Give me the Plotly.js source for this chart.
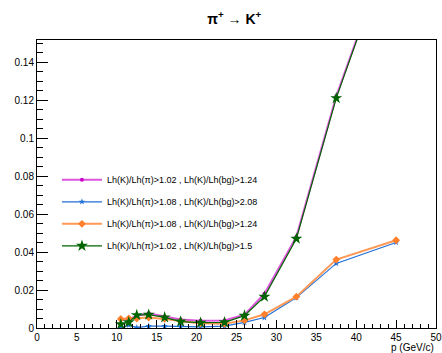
<!DOCTYPE html>
<html>
<head>
<meta charset="utf-8">
<script src="https://cdn.plot.ly/plotly-3.0.1.min.js"></script>
<style>html,body{margin:0;padding:0;background:#fff;}#chart{width:442px;height:353px;}</style>
</head>
<body>
<div id="chart"></div>
<script>
const momentum = [10.5, 11.5, 12.5, 14, 16, 18, 20.5, 23.5, 26, 28.5, 32.5, 37.5, 45];
const effMagenta = [0.0045, 0.0045, 0.0065, 0.0078, 0.0060, 0.0045, 0.0038, 0.0040, 0.0070, 0.0180, 0.0480, 0.1220, 0.2100];
const effBlue    = [0.0000, 0.0015, 0.0002, 0.0010, 0.0010, 0.0009, 0.0006, 0.0010, 0.0030, 0.0055, 0.0160, 0.0340, 0.0450];
const effOrange  = [0.0048, 0.0050, 0.0050, 0.0055, 0.0048, 0.0035, 0.0025, 0.0022, 0.0040, 0.0072, 0.0165, 0.0360, 0.0462];
const effGreen   = [0.0020, 0.0030, 0.0068, 0.0070, 0.0056, 0.0034, 0.0028, 0.0030, 0.0065, 0.0165, 0.0470, 0.1210, 0.2100];
const seriesNames = [
  "Lh(K)/Lh(π)>1.02 , Lh(K)/Lh(bg)>1.24",
  "Lh(K)/Lh(π)>1.08 , Lh(K)/Lh(bg)>2.08",
  "Lh(K)/Lh(π)>1.08 , Lh(K)/Lh(bg)>1.24",
  "Lh(K)/Lh(π)>1.02 , Lh(K)/Lh(bg)>1.5"
];

const traces = [
  {x: momentum, y: effMagenta, name: seriesNames[0], legendgroup: "a", mode: "lines+markers",
   line: {color: "#dd55dd", width: 2}, marker: {symbol: "circle", size: 4, color: "#cc00cc"}},
  {x: momentum, y: effBlue, name: seriesNames[1], legendgroup: "b", mode: "lines+markers",
   line: {color: "#1f6fd6", width: 1.2}, marker: {symbol: "star", size: 5, color: "#1f6fd6"}},
  {x: momentum, y: effOrange, name: seriesNames[2], legendgroup: "c", mode: "lines+markers",
   line: {color: "#ff9955", width: 2}, marker: {symbol: "diamond", size: 6, color: "#ff7f2a"}},
  {x: momentum, y: effGreen, name: seriesNames[3], legendgroup: "d", mode: "lines+markers",
   line: {color: "#006400", width: 1.2}, marker: {symbol: "star", size: 9, color: "#006400"}}
];

const font = {family: "Liberation Sans, Arial, sans-serif", color: "#000"};

const layout = {
  width: 442, height: 353,
  margin: {l: 37, r: 6, t: 40, b: 25},
  paper_bgcolor: "#fff", plot_bgcolor: "#fff",
  font: Object.assign({size: 10}, font),
  title: {text: "<b>π<sup>+</sup> → K<sup>+</sup></b>", x: 0.53, xanchor: "center", y: 0.945, yanchor: "middle",
          font: Object.assign({size: 14}, font)},
  showlegend: true,
  legend: {x: 0.05, y: 0.565, xanchor: "left", yanchor: "top", bgcolor: "rgba(0,0,0,0)",
           font: Object.assign({size: 9}, font), tracegroupgap: 3, itemwidth: 40},
  xaxis: {range: [0, 50], dtick: 5, tick0: 0, ticks: "inside", ticklen: 8, tickcolor: "#000",
          showline: true, linecolor: "#000", linewidth: 1, mirror: true, showgrid: false, zeroline: false,
          minor: {dtick: 1, ticks: "inside", ticklen: 4, tickcolor: "#000", showgrid: false},
          tickfont: Object.assign({size: 10}, font)},
  yaxis: {range: [0, 0.1516], dtick: 0.02, tick0: 0, ticks: "inside", ticklen: 11, tickcolor: "#000",
          showline: true, linecolor: "#000", linewidth: 1, mirror: true, showgrid: false, zeroline: false,
          minor: {dtick: 0.005, ticks: "inside", ticklen: 6, tickcolor: "#000", showgrid: false},
          tickfont: Object.assign({size: 10}, font)},
  annotations: [{text: "p (GeV/c)", xref: "paper", yref: "paper", x: 1, y: 0, xanchor: "right", yanchor: "top",
                 yshift: -12, showarrow: false, font: Object.assign({size: 10}, font)}]
};

Plotly.newPlot("chart", traces, layout, {displayModeBar: false, staticPlot: true});
</script>
</body>
</html>
